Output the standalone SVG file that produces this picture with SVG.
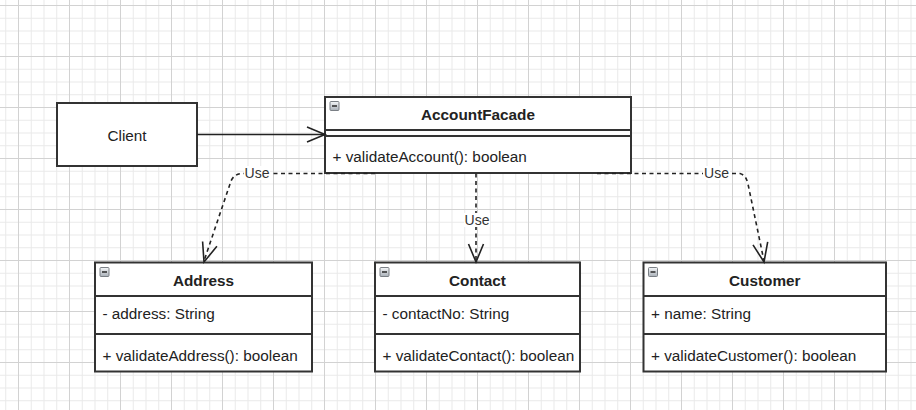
<svg xmlns="http://www.w3.org/2000/svg" xmlns:xlink="http://www.w3.org/1999/xlink" width="916" height="410" viewBox="0 0 916 410">
<style>
text{font-family:"Liberation Sans",Arial,sans-serif;fill:#222}
.t{font-size:15.3px;font-weight:bold;text-anchor:middle}
.m{font-size:15.3px}
.c{font-size:15.3px;text-anchor:middle}
.u{font-size:14px;text-anchor:middle;fill:#333}
.box{fill:#fff;stroke:#333;stroke-width:2}
.div{stroke:#333;stroke-width:2;fill:none}
.edge{fill:none;stroke:#222;stroke-width:1.6}
.dash{stroke-dasharray:4 3.5}
.head{fill:none;stroke:#222;stroke-width:1.6}
.lb{fill:#fff}
</style>
<defs>
<pattern id="minor" x="18" y="5" width="12.75" height="12.75" patternUnits="userSpaceOnUse">
<path d="M0.5 0V12.75M0 0.5H12.75" stroke="#e9e9e9" stroke-width="1" fill="none"/>
</pattern>
<pattern id="major" x="18" y="5" width="51" height="51" patternUnits="userSpaceOnUse">
<path d="M0.5 0V51M0 0.5H51" stroke="#d2d2d2" stroke-width="1" fill="none"/>
</pattern>
<linearGradient id="ig" x1="0" y1="0" x2="0" y2="1">
<stop offset="0" stop-color="#f4f6f8"/>
<stop offset="1" stop-color="#a9b0b8"/>
</linearGradient>
<g id="icon">
<rect x="0" y="0" width="9" height="9" rx="1" fill="url(#ig)" stroke="#7a7f85" stroke-width="1"/>
<path d="M2 4.5H7" stroke="#333" stroke-width="1.6"/>
</g>
</defs>
<rect width="916" height="410" fill="#fff"/>
<rect width="916" height="410" fill="url(#minor)"/>
<rect width="916" height="410" fill="url(#major)"/>

<g id="client">
<rect class="box" x="57" y="103" width="140" height="63"/>
<text class="c" x="127" y="141">Client</text>
</g>

<g id="accountfacade">
<rect class="box" x="325" y="97" width="306" height="76"/>
<path class="div" d="M325 130H631M325 136H631"/>
<use xlink:href="#icon" x="330" y="101.5"/>
<text class="t" x="478" y="120">AccountFacade</text>
<text class="m" x="332.5" y="162">+ validateAccount(): boolean</text>
</g>

<g id="address">
<rect class="box" x="95" y="262.5" width="217" height="109"/>
<path class="div" d="M95 296H312M95 334H312"/>
<use xlink:href="#icon" x="100" y="267.5"/>
<text class="t" x="203.5" y="285.5">Address</text>
<text class="m" x="102.5" y="318.5">- address: String</text>
<text class="m" x="102.5" y="360.5">+ validateAddress(): boolean</text>
</g>

<g id="contact">
<rect class="box" x="375" y="262.5" width="205" height="109"/>
<path class="div" d="M375 296H580M375 334H580"/>
<use xlink:href="#icon" x="380" y="267.5"/>
<text class="t" x="477.5" y="285.5">Contact</text>
<text class="m" x="382.5" y="318.5">- contactNo: String</text>
<text class="m" x="382.5" y="360.5">+ validateContact(): boolean</text>
</g>

<g id="customer">
<rect class="box" x="643.5" y="262.5" width="242.5" height="109"/>
<path class="div" d="M643.5 296H886M643.5 334H886"/>
<use xlink:href="#icon" x="648.5" y="267.5"/>
<text class="t" x="764.75" y="285.5">Customer</text>
<text class="m" x="651" y="318.5">+ name: String</text>
<text class="m" x="651" y="360.5">+ validateCustomer(): boolean</text>
</g>

<g id="connectors">
<path class="edge" d="M197 134.5H325"/>
<path class="head" d="M307 127L325 134.5L307 142"/>

<path class="edge dash" d="M375 173.5H242Q234 174 231 181L204 261"/>
<path class="head" d="M202.6 241.5L204 262L216.9 246.3"/>
<rect class="lb" x="244" y="166" width="26" height="14"/>
<text class="u" x="257" y="178">Use</text>

<path class="edge dash" d="M476 173.5V261"/>
<path class="head" d="M468.5 244L476 262L483.5 244"/>
<rect class="lb" x="464" y="213" width="26" height="14"/>
<text class="u" x="477" y="225">Use</text>

<path class="edge dash" d="M597 173.5H740Q746 175 748 184L764 261"/>
<path class="head" d="M753 244.9L764 262L767.7 241.8"/>
<rect class="lb" x="703" y="166" width="27" height="14"/>
<text class="u" x="716.5" y="178">Use</text>
</g>
</svg>
